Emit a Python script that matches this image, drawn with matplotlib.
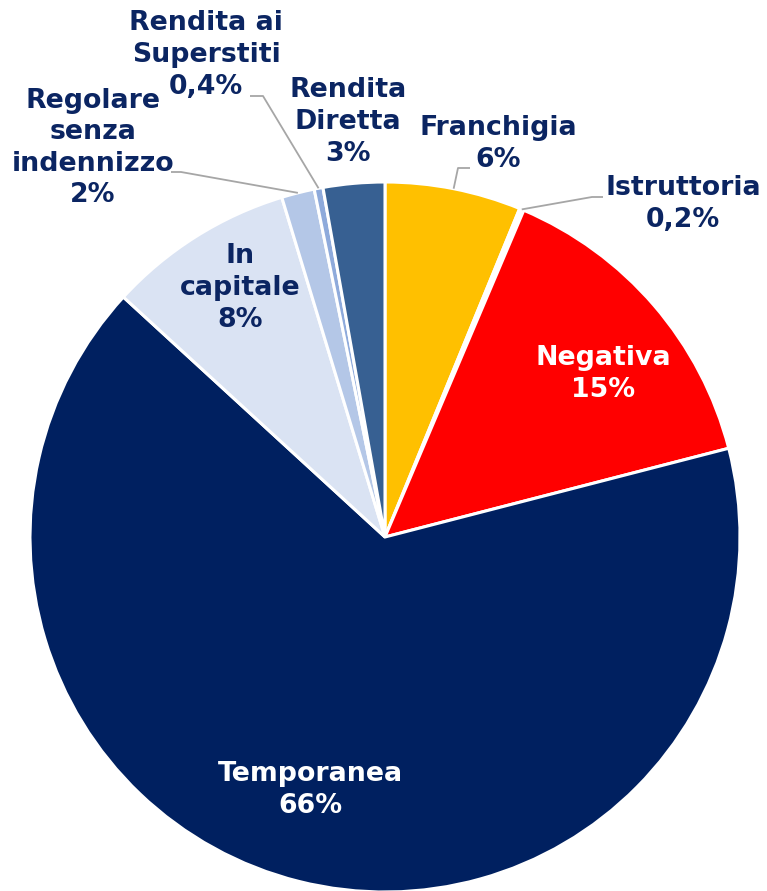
import numpy as np
import matplotlib
matplotlib.use("Agg")
import matplotlib.pyplot as plt

# slices clockwise from 12 o'clock
categories = ["Franchigia", "Istruttoria", "Negativa", "Temporanea",
              "In\ncapitale", "Regolare\nsenza\nindennizzo",
              "Rendita ai\nSuperstiti", "Rendita\nDiretta"]
values = [6.2, 0.2, 14.6, 65.9, 8.5, 1.5, 0.4, 2.8]
pct_labels = ["6%", "0,2%", "15%", "66%", "8%", "2%", "0,4%", "3%"]
colors = ["#FFC000", "#FFFFFF", "#FF0000", "#002060",
          "#DAE3F3", "#B4C7E7", "#8EAADB", "#376092"]

W, H = 767, 891
NAVY = "#0B2562"

def py(y):
    # pixel row -> data y
    return H - y

fig = plt.figure(figsize=(W / 100, H / 100), dpi=100)
ax = fig.add_axes([0, 0, 1, 1])

cx, cy, r = 385, py(537), 355
wedges, _ = ax.pie(values, colors=colors, startangle=90, counterclock=False,
                   center=(cx, cy), radius=r,
                   wedgeprops=dict(edgecolor="white", linewidth=2.2))
ax.set_xlim(0, W)
ax.set_ylim(0, H)
ax.axis("off")

def edge_point(i, frac=1.0):
    w = wedges[i]
    a = np.deg2rad((w.theta1 + w.theta2) / 2)
    return cx + r * frac * np.cos(a), cy + r * frac * np.sin(a)

# label text positions (pixel coords), text colour
label_pos = {
    0: (498, 144, NAVY),
    1: (683, 204, NAVY),
    2: (603, 374, "white"),
    3: (310, 790, "white"),
    4: (240, 288, NAVY),
    5: (93, 148, NAVY),
    6: (206, 55, NAVY),
    7: (348, 122, NAVY),
}
for i, (x, y, c) in label_pos.items():
    ax.text(x, py(y), categories[i] + "\n" + pct_labels[i], ha="center",
            va="center", fontsize=19.3, fontweight="bold", color=c,
            family="DejaVu Sans", linespacing=1.28)

# leader lines: wedge edge -> elbow -> text
leaders = {
    0: [(458, 168), (470, 168)],
    1: [(592, 197), (603, 197)],
    5: [(181, 172), (171, 172)],
    6: [(263, 96), (250, 96)],
}
for i, pts in leaders.items():
    ex, ey = edge_point(i)
    xs = [ex] + [p[0] for p in pts]
    ys = [ey] + [py(p[1]) for p in pts]
    ax.plot(xs, ys, color="#A6A6A6", lw=1.3, solid_capstyle="butt")

fig.savefig("out.png", dpi=100)
